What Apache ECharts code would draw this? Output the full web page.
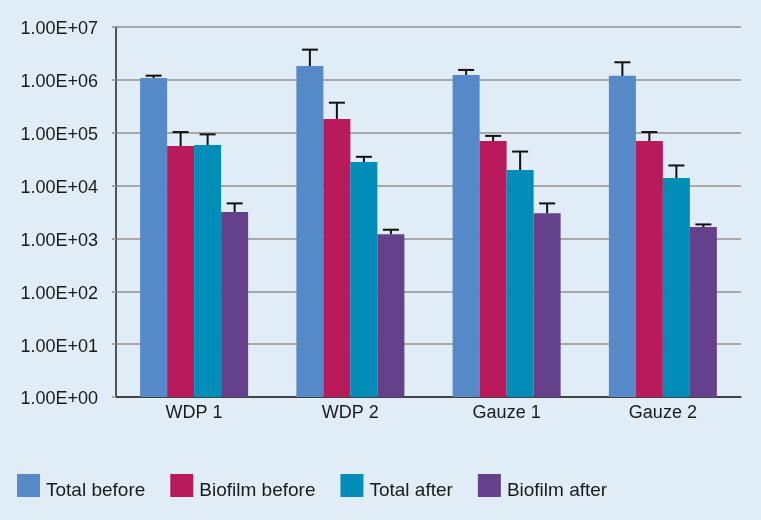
<!DOCTYPE html>
<html>
<head>
<meta charset="utf-8">
<script src="https://cdn.jsdelivr.net/npm/echarts@6/dist/echarts.min.js"></script>
<style>
  html, body { margin: 0; padding: 0; background: #E0EDF6; }
  #chart { width: 761px; height: 520px; }
</style>
</head>
<body>
<div id="chart"></div>
<script>
// Bacterial counts per dressing, before and after (log scale)
const categories = ['WDP 1', 'WDP 2', 'Gauze 1', 'Gauze 2'];
const seriesNames = ['Total before', 'Biofilm before', 'Total after', 'Biofilm after'];

const totalBefore   = [1.09e6, 1.83e6, 1.24e6, 1.19e6];
const biofilmBefore = [5.6e4, 1.82e5, 6.97e4, 6.97e4];
const totalAfter    = [5.85e4, 2.79e4, 1.97e4, 1.39e4];
const biofilmAfter  = [3.15e3, 1.2e3, 3.0e3, 1.64e3];

// Upper ends of the error bars
const totalBeforeErr   = [1.2e6, 3.73e6, 1.54e6, 2.15e6];
const biofilmBeforeErr = [1.03e5, 3.7e5, 8.7e4, 1.03e5];
const totalAfterErr    = [9.3e4, 3.5e4, 4.4e4, 2.4e4];
const biofilmAfterErr  = [4.6e3, 1.46e3, 4.6e3, 1.84e3];

const colors = ['#5689C8', '#B91A5B', '#008DB7', '#65418B'];
const values = [totalBefore, biofilmBefore, totalAfter, biofilmAfter];
const errors = [totalBeforeErr, biofilmBeforeErr, totalAfterErr, biofilmAfterErr];

const BAR_W = 27;
const FONT = 'Liberation Sans, Arial, sans-serif';

const chart = echarts.init(document.getElementById('chart'));

const barSeries = values.map((vals, i) => ({
  name: seriesNames[i],
  type: 'bar',
  data: vals,
  barWidth: BAR_W,
  barGap: '0%',
  itemStyle: { color: colors[i] },
  z: 2
}));

// Error bars: one data item per bar -> [category index, series index, value, upper]
const errData = [];
values.forEach((vals, s) => {
  vals.forEach((v, c) => errData.push([c, s, v, errors[s][c]]));
});

const errSeries = {
  type: 'custom',
  name: 'err',
  data: errData,
  z: 5,
  encode: { x: 0, y: 3 },
  renderItem: function (params, api) {
    const c = api.value(0);
    const s = api.value(1);
    const base = api.coord([c, api.value(2)]);
    const top = api.coord([c, api.value(3)]);
    const x = base[0] + (s - 1.5) * BAR_W;
    const cap = 8;
    const style = { stroke: '#111', lineWidth: 2 };
    return {
      type: 'group',
      children: [
        { type: 'line', shape: { x1: x, y1: base[1], x2: x, y2: top[1] }, style: style },
        { type: 'line', shape: { x1: x - cap, y1: top[1], x2: x + cap, y2: top[1] }, style: style }
      ]
    };
  }
};

chart.setOption({
  backgroundColor: '#E0EDF6',
  animation: false,
  color: colors,
  grid: { left: 116, right: 20, top: 27, bottom: 123, containLabel: false },
  legend: {
    data: seriesNames,
    left: 17,
    top: 474,
    padding: 0,
    itemWidth: 23,
    itemHeight: 23,
    itemGap: 25,
    icon: 'rect',
    formatter: '{t|{name}}',
    textStyle: {
      fontFamily: FONT, fontSize: 19, color: '#1a1a1a',
      rich: { t: { fontFamily: FONT, fontSize: 19, color: '#1a1a1a', padding: [10, 0, 0, 1] } }
    }
  },
  xAxis: {
    type: 'category',
    data: categories,
    axisLine: { lineStyle: { color: '#222', width: 1.5 } },
    axisTick: { inside: true, length: 8, interval: 0, lineStyle: { color: '#222', width: 1.5 } },
    axisLabel: { margin: 7, fontFamily: FONT, fontSize: 18, color: '#1a1a1a' },
    splitLine: { show: false }
  },
  yAxis: {
    type: 'log',
    logBase: 10,
    min: 1,
    max: 1e7,
    axisLine: { show: true, lineStyle: { color: '#222', width: 1.5 } },
    axisTick: { show: true, length: 4, lineStyle: { color: '#A8A8A8', width: 2 } },
    splitLine: { show: true, lineStyle: { color: '#A8A8A8', width: 2 } },
    axisLabel: {
      margin: 18,
      fontFamily: FONT,
      fontSize: 18,
      color: '#1a1a1a',
      formatter: function (v) {
        const e = Math.round(Math.log10(v));
        return '{t|1.00E+' + (e < 10 ? '0' : '') + e + '}';
      },
      rich: { t: { fontFamily: FONT, fontSize: 18, color: '#1a1a1a', padding: [5, 0, 0, 0] } }
    }
  },
  series: barSeries.concat([errSeries])
});
</script>
</body>
</html>
